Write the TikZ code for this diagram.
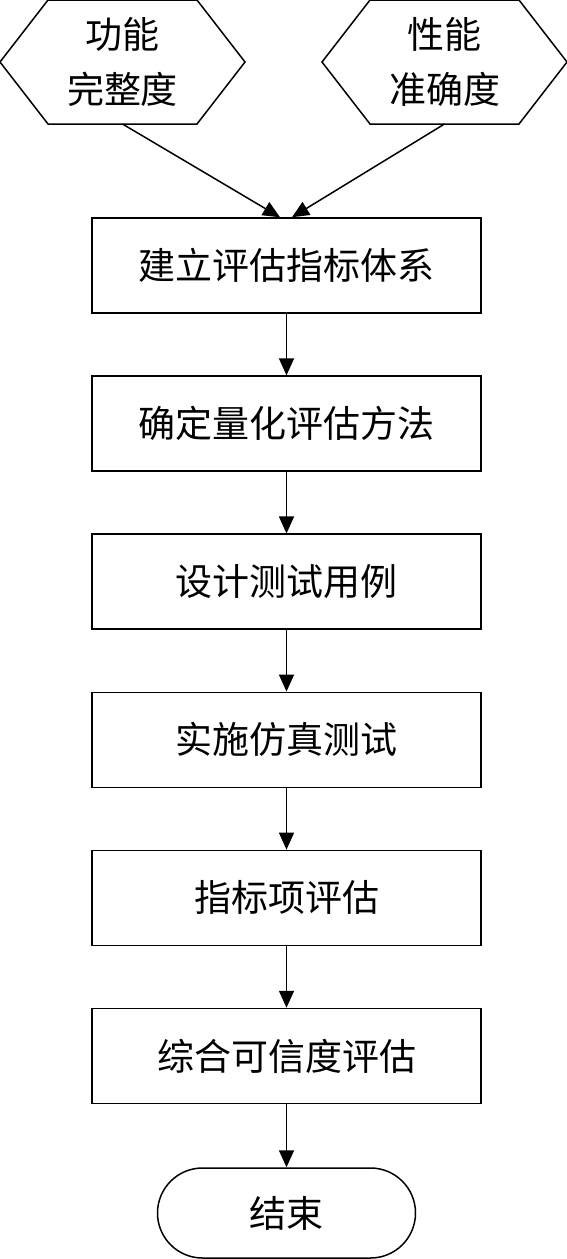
\documentclass[tikz,border=0pt]{standalone}
\usepackage{fontspec}
\setmainfont{Noto Sans CJK SC}
\usetikzlibrary{arrows.meta,positioning}

\tikzset{
  hexbox/.style={rectangle, minimum width=122.5pt, minimum height=62pt, outer sep=0pt,
    inner sep=0pt, align=center, font=\fontsize{18.5}{27.5}\selectfont},
  hexline/.style={line width=0.75pt, line join=miter},
  procbox/.style={rectangle, draw, line width=0.75pt, minimum width=194.5pt,
    minimum height=47.5pt, align=center, font=\fontsize{18.5}{22}\selectfont},
  endbox/.style={rectangle, draw, rounded corners=22.5pt, line width=0.75pt,
    minimum width=129pt, minimum height=45pt, font=\fontsize{18.5}{22}\selectfont},
  flow/.style={-{Triangle[length=8.5pt,width=7.5pt]}, line width=0.75pt}
}

\begin{document}
\begin{tikzpicture}[node distance=30.8pt]
\useasboundingbox (0,0) rectangle (283.5pt,-629.5pt);

% the two inputs
\node (func) [hexbox] at (61.25pt,-31pt) {功能\\完整度};
\node (perf) [hexbox] at (222.25pt,-31pt) {性能\\准确度};
\foreach \h in {func,perf}
  \draw[hexline] (\h.west) -- ([xshift=24pt]\h.north west) -- ([xshift=-24pt]\h.north east)
    -- (\h.east) -- ([xshift=-24pt]\h.south east) -- ([xshift=24pt]\h.south west) -- cycle;

% main steps
\node (build) [procbox] at (143.25pt,-132.75pt) {建立评估指标体系};
\node (method) [procbox, below=of build] {确定量化评估方法};
\node (design) [procbox, below=of method] {设计测试用例};
\node (sim) [procbox, below=of design] {实施仿真测试};
\node (item) [procbox, below=of sim] {指标项评估};
\node (total) [procbox, below=of item] {综合可信度评估};
\node (finish) [endbox, below=31.5pt of total] {结束};

\draw[flow] (func.south) -- ([xshift=-3.25pt]build.north);
\draw[flow] (perf.south) -- ([xshift=2.75pt]build.north);
\draw[flow] (build) -- (method);
\draw[flow] (method) -- (design);
\draw[flow] (design) -- (sim);
\draw[flow] (sim) -- (item);
\draw[flow] (item) -- (total);
\draw[flow] (total) -- (finish);

\end{tikzpicture}
\end{document}
